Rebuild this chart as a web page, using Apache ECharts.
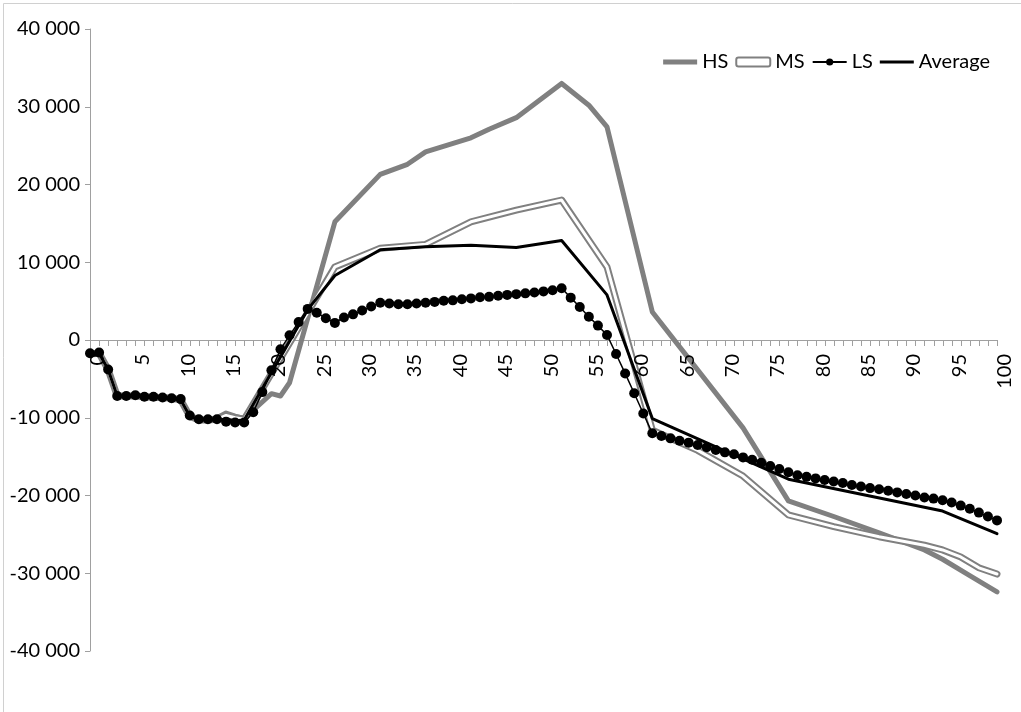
<!DOCTYPE html>
<html>
<head>
<meta charset="utf-8">
<script src="https://cdn.jsdelivr.net/npm/echarts@6/dist/echarts.min.js"></script>
<style>
  html, body { margin: 0; padding: 0; background: #fff; }
  #chart { width: 1021px; height: 712px; }
</style>
</head>
<body>
<div id="chart"></div>
<script>
// Age axis: 0 .. 100, one category per year
const ages = Array.from({ length: 101 }, (_, i) => String(i));
// every fifth age carries a label
const LABEL_STEP = 5;

// Low scenario: one value per year (drawn with markers)
const lsValues = [
  -1700, -1600, -3800, -7200, -7200, -7100, -7300, -7300, -7400, -7500,
  -7600, -9700, -10200, -10200, -10200, -10500, -10600, -10600, -9300, -6700,
  -3900, -1200, 600, 2300, 4000, 3500, 2800, 2200, 2900, 3300,
  3800, 4300, 4800, 4700, 4600, 4600, 4700, 4800, 4900, 5050,
  5100, 5250, 5350, 5500, 5550, 5700, 5800, 5900, 6000, 6100,
  6250, 6400, 6650, 5450, 4250, 3000, 1850, 650, -1800, -4300,
  -6850, -9450, -12000, -12350, -12650, -12950, -13200, -13500, -13800, -14150,
  -14450, -14700, -15100, -15400, -15800, -16200, -16600, -17000, -17400, -17600,
  -17800, -18000, -18200, -18400, -18650, -18850, -19050, -19200, -19400, -19600,
  -19800, -20000, -20250, -20400, -20600, -20900, -21300, -21700, -22200, -22700,
  -23200
];

// High scenario: ages and values where the curve has points
const hsAges = [0, 1, 2, 3, 4, 5, 6, 7, 8, 9, 10, 11, 12, 13, 14, 15, 16, 17,
  20, 21, 22, 27, 32, 35, 37, 42, 44, 47, 52, 55, 57, 62, 72, 77, 82, 87, 92, 94, 97, 100];
const hsValues = [-1800, -1700, -3800, -7200, -7200, -7200, -7300, -7300, -7400, -7500,
  -7700, -9800, -10300, -10300, -10000, -9400, -9800, -10100,
  -6900, -7200, -5500, 15200, 21300, 22600, 24200, 26000, 27100, 28600, 33000, 30200,
  27400, 3600, -11300, -20700, -22700, -24800, -27000, -28200, -30300, -32400];

// Medium scenario
const msAges = [0, 1, 2, 3, 4, 5, 6, 7, 8, 9, 10, 11, 12, 13, 14, 15, 16, 17,
  27, 32, 37, 42, 47, 52, 57, 62, 67, 72, 77, 82, 87, 92, 94, 96, 98, 100];
const msValues = [-1800, -1700, -3800, -7200, -7200, -7200, -7300, -7400, -7400, -7500,
  -7700, -9800, -10300, -10300, -10200, -9700, -10000, -10200,
  9400, 11800, 12300, 15200, 16700, 18000, 9400, -11600, -14200, -17500, -22500,
  -24000, -25300, -26400, -27000, -27900, -29300, -30100];

// Average of the scenarios
const avgAges = [0, 1, 2, 3, 4, 5, 6, 7, 8, 9, 10, 11, 12, 13, 14, 15, 16, 17,
  24, 27, 32, 37, 42, 47, 52, 57, 62, 77, 94, 100];
const avgValues = [-1800, -1700, -3800, -7200, -7200, -7200, -7300, -7300, -7400, -7500,
  -7700, -9800, -10300, -10300, -10300, -10200, -10400, -10300,
  3900, 8300, 11600, 12000, 12200, 11900, 12800, 5800, -10100, -17900, -22000, -24900];

const pairs = (xs, ys) => xs.map((x, i) => [x, ys[i]]);

const FONT = 'Lato';
const GRAY = '#808080';
const AXIS = '#a0a0a0';

function fmt(v) {
  if (v === 0) return '0';
  const s = String(Math.abs(v)).replace(/\B(?=(\d{3})+(?!\d))/g, ' ');
  return (v < 0 ? '-' : '') + s;
}

// legend swatches: a bar of given thickness inside a 34 x 9 box
const bar = (y0, h) => 'path://M0,0h0.01M0,9h0.01M0,' + y0 + 'h34v' + h + 'h-34z';

// small tick marks hanging below the zero line, one per age
function renderAgeTick(params, api) {
  const p = api.coord([api.value(0), 0]);
  const x = Math.round(p[0]) + 0.5;
  const y = Math.round(p[1]);
  return {
    type: 'line',
    shape: { x1: x, y1: y, x2: x, y2: y + 6 },
    style: { stroke: AXIS, lineWidth: 1 },
    silent: true
  };
}

const frame = [
  { type: 'line', shape: { x1: 3.5, y1: 3.5, x2: 3.5, y2: 712 }, style: { stroke: '#d0d0d0', lineWidth: 1 } },
  { type: 'line', shape: { x1: 3.5, y1: 3.5, x2: 1021, y2: 3.5 }, style: { stroke: '#d0d0d0', lineWidth: 1 } }
];

const chart = echarts.init(document.getElementById('chart'), null, { renderer: 'canvas' });

chart.setOption({
  animation: false,
  backgroundColor: '#fff',
  textStyle: { fontFamily: FONT },
  graphic: frame,
  grid: { left: 90, right: 24, top: 29, bottom: 61 },
  legend: {
    right: 31,
    top: 52,
    padding: 0,
    itemWidth: 34,
    itemHeight: 9,
    itemGap: 7,
    textStyle: { fontFamily: FONT, fontSize: 20, color: '#000' },
    data: [
      { name: 'HS', icon: bar(2, 5), itemStyle: { color: GRAY, borderWidth: 0 } },
      { name: 'MS', icon: 'roundRect', itemStyle: { color: '#fff', borderColor: GRAY, borderWidth: 2 } },
      'LS',
      { name: 'Average', icon: bar(3, 3), itemStyle: { color: '#000', borderWidth: 0 } }
    ]
  },
  xAxis: {
    type: 'category',
    data: ages,
    boundaryGap: false,
    axisLine: { show: true, onZero: true, lineStyle: { color: AXIS, width: 1 } },
    axisTick: { show: false },
    axisLabel: { show: false },
    splitLine: { show: false }
  },
  yAxis: {
    type: 'value',
    min: -40000,
    max: 40000,
    interval: 10000,
    axisLine: { show: true, lineStyle: { color: AXIS, width: 1 } },
    axisTick: { show: true, length: 5, lineStyle: { color: AXIS } },
    axisLabel: { formatter: fmt, margin: 10, fontFamily: FONT, fontSize: 20, color: '#000' },
    splitLine: { show: false }
  },
  series: [
    {
      name: 'age ticks', type: 'custom',
      data: ages.map((a, i) => [i]),
      renderItem: renderAgeTick,
      clip: false, silent: true, z: 1
    },
    {
      name: 'HS', type: 'line', data: pairs(hsAges, hsValues),
      symbol: 'none', color: GRAY,
      lineStyle: { color: GRAY, width: 5, join: 'round', cap: 'round' }
    },
    {
      name: 'MS', type: 'line', data: pairs(msAges, msValues),
      symbol: 'none', color: GRAY,
      lineStyle: { color: GRAY, width: 7, join: 'round', cap: 'round' }
    },
    {
      name: 'MS core', type: 'line', data: pairs(msAges, msValues),
      symbol: 'none', color: '#fff',
      lineStyle: { color: '#fff', width: 3, join: 'round', cap: 'round' }
    },
    {
      name: 'LS', type: 'line', data: lsValues,
      symbol: 'circle', symbolSize: 10, showSymbol: true, showAllSymbol: true,
      color: '#000',
      itemStyle: { color: '#000' },
      lineStyle: { color: '#000', width: 1.5 }
    },
    {
      name: 'Average', type: 'line', data: pairs(avgAges, avgValues),
      symbol: 'none', color: '#000',
      lineStyle: { color: '#000', width: 3, join: 'round', cap: 'round' }
    }
  ]
});

// age labels, turned to read upwards, placed under their ticks on the zero line
const ageLabels = [];
ages.forEach((a, i) => {
  if (i % LABEL_STEP !== 0) return;
  const p = chart.convertToPixel({ gridIndex: 0 }, [i, 0]);
  ageLabels.push({
    type: 'text',
    x: Math.round(p[0]) + 8,
    y: Math.round(p[1]) + 14,
    rotation: Math.PI / 2,
    z: 100,
    style: {
      text: a,
      fontFamily: FONT,
      fontSize: 20,
      fill: '#000',
      align: 'right',
      verticalAlign: 'middle'
    }
  });
});
chart.setOption({ graphic: frame.concat(ageLabels) });
</script>
</body>
</html>
